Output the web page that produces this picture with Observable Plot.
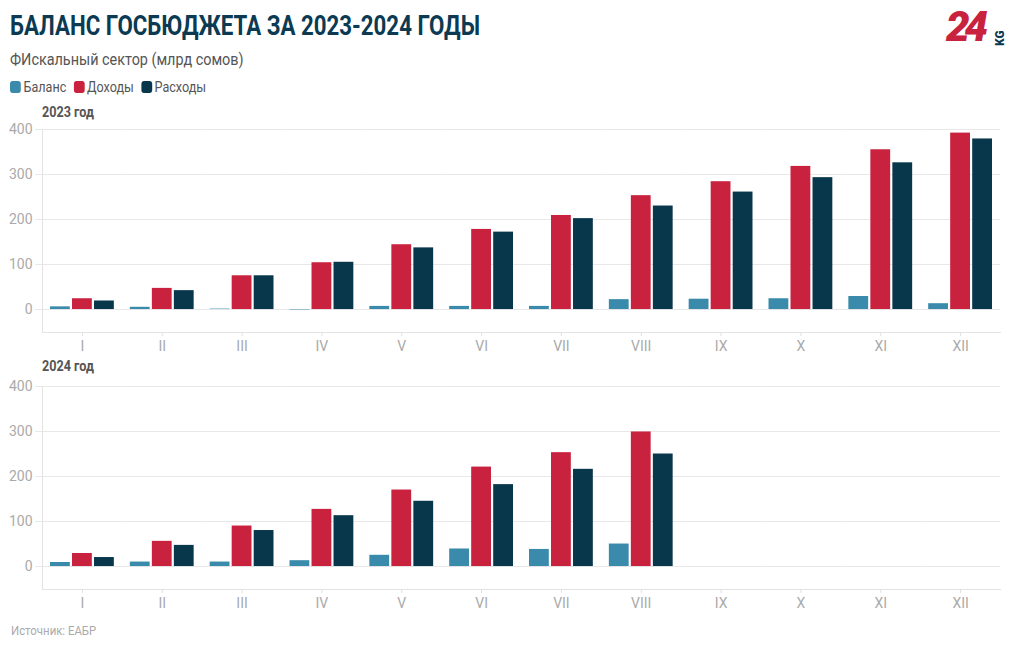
<!DOCTYPE html>
<html><head><meta charset="utf-8">
<script src="https://cdn.jsdelivr.net/npm/d3@7"></script>
<script src="https://cdn.jsdelivr.net/npm/@observablehq/plot@0.6"></script>
<style>
body{margin:0;background:#fff;font-family:Roboto,sans-serif;width:1020px;height:650px;overflow:hidden;position:relative}
.abs{position:absolute;white-space:nowrap;line-height:1}
#title{left:10px;top:11.5px;font-size:28px;font-weight:700;color:#0b3a52;transform:scaleX(0.795);transform-origin:left top}
#subtitle{left:10px;top:51.5px;font-size:16px;color:#555;transform:scaleX(0.9);transform-origin:left top}
#legend{left:10px;top:80px;font-size:14px;color:#555;display:flex;gap:8px;transform:scaleX(0.9);transform-origin:left top}
#legend span.item{display:flex;align-items:center}
#legend i{display:inline-block;width:12px;height:12px;border-radius:3px;margin-right:3px}
.ptitle{left:42px;font-size:14px;font-weight:700;color:#555;transform:scaleX(0.9);transform-origin:left top}
#source{left:11px;top:625px;font-size:12px;color:#aaa;transform:scaleX(0.95);transform-origin:left top}
#logo{left:946px;top:6px;font-size:42px;font-weight:900;font-style:italic;color:#c8223f;letter-spacing:-5px}
#kg{left:994px;top:46px;font-size:12px;font-weight:900;color:#0b3a52;transform:rotate(-90deg);transform-origin:left top}
.chart{position:absolute;left:0}
</style></head><body>
<div id="title" class="abs">БАЛАНС ГОСБЮДЖЕТА ЗА 2023-2024 ГОДЫ</div>
<div id="subtitle" class="abs">ФИскальный сектор (млрд сомов)</div>
<div id="legend" class="abs"></div>
<div id="logo" class="abs">24</div>
<div id="kg" class="abs">KG</div>
<div class="abs ptitle" style="top:104.7px">2023 год</div>
<div class="chart" id="c2023" style="top:120px"></div>
<div class="abs ptitle" style="top:359px">2024 год</div>
<div class="chart" id="c2024" style="top:377px"></div>
<div id="source" class="abs">Источник: ЕАБР</div>
<script>
const months = ["I","II","III","IV","V","VI","VII","VIII","IX","X","XI","XII"];
const series = ["Баланс","Доходы","Расходы"];
const colors = ["#3a8bab","#c8223f","#08364b"];
const yTicks = [0,100,200,300,400];

const balance2023 = [6,5,1,-1,7,7,7,22,23,24,29,13];
const revenue2023 = [24,47,75,104,144,178,209,253,284,318,355,392];
const expense2023 = [19,42,75,105,137,172,202,230,261,293,326,379];

const balance2024 = [9,10,10,13,25,39,38,50,null,null,null,null];
const revenue2024 = [29,56,90,127,170,221,253,299,null,null,null,null];
const expense2024 = [20,47,80,113,145,182,216,250,null,null,null,null];

// legend
const leg = document.getElementById("legend");
series.forEach((s,i)=>{
  const el = document.createElement("span");
  el.className="item";
  el.innerHTML = `<i style="background:${colors[i]}"></i>${s}`;
  leg.appendChild(el);
});

function rows(b, r, e){
  const out = [];
  months.forEach((m,i)=>{
    out.push({month:m, series:series[0], value:b[i]});
    out.push({month:m, series:series[1], value:r[i]});
    out.push({month:m, series:series[2], value:e[i]});
  });
  return out;
}

function chart(data){
  return Plot.plot({
    width:1020, height:240,
    marginTop:9, marginBottom:28, marginLeft:42, marginRight:20,
    style:{fontFamily:"Roboto, sans-serif", fontSize:"14px", color:"#aaa", background:"#fff"},
    fx:{domain:months, padding:0, label:null, round:false},
    x:{domain:series, axis:null, paddingInner:0.1, paddingOuter:0.364, round:false},
    y:{domain:[-51,400], label:null},
    color:{domain:series, range:colors},
    marks:[
      Plot.gridY(yTicks, {stroke:"#e8e8e8", strokeOpacity:1}),
      Plot.frame({anchor:"bottom", stroke:"#e3e3e3"}),
      Plot.frame({anchor:"left", stroke:"#e3e3e3", facetAnchor:"left"}),
      Plot.axisY({ticks:yTicks, tickSize:7, tickPadding:3, stroke:"#e8e8e8", fill:"#aaa", label:null, facetAnchor:"left"}),
      Plot.axisFx({anchor:"bottom", tickSize:4, tickPadding:5, stroke:"#e0e0e0", fill:"#aaa", label:null}),
      Plot.barY(data, {fx:"month", x:"series", y1:0, y2:"value", fill:"series"})
    ]
  });
}

document.getElementById("c2023").appendChild(chart(rows(balance2023, revenue2023, expense2023)));
document.getElementById("c2024").appendChild(chart(rows(balance2024, revenue2024, expense2024)));
</script>
</body></html>
